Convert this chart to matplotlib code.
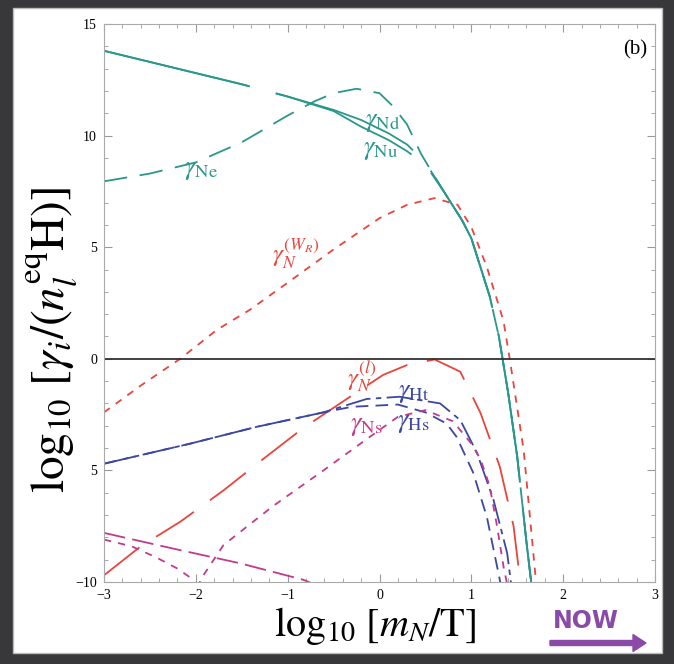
import numpy as np
import matplotlib
matplotlib.use("Agg")
from matplotlib import pyplot as plt
from matplotlib.patches import Rectangle, FancyArrow
from matplotlib.ticker import MultipleLocator, FixedLocator, FixedFormatter

plt.rcParams['font.family'] = ['Liberation Serif', 'DejaVu Serif']
plt.rcParams['mathtext.fontset'] = 'stix'

# curves (x = log10 mN/T, y = log10 rate)
nu_x = [-3, -2.5, -2, -1.5, -1, -0.5, -0.2, 0.1, 0.3, 0.5, 0.7, 0.9, 1.0, 1.1, 1.2, 1.3, 1.4, 1.5, 1.6, 1.66]
nu_y = [13.8, 13.3, 12.8, 12.3, 11.75, 11.1, 10.4, 9.8, 9.3, 8.7, 7.5, 6.2, 5.4, 4.1, 2.8, 1.0, -1.5, -4.4, -8.2, -10.3]
nd_x = [-3, -2.5, -2, -1.5, -1, -0.5, -0.2, 0.1, 0.3, 0.5, 0.7, 0.9, 1.0, 1.1, 1.2, 1.3, 1.4, 1.5, 1.6, 1.66]
nd_y = [13.8, 13.3, 12.8, 12.3, 11.75, 11.15, 10.7, 10.1, 9.6, 8.8, 7.5, 6.2, 5.4, 4.1, 2.8, 1.0, -1.5, -4.4, -8.2, -10.3]
ne_x = [-3, -2.5, -2, -1.5, -1, -0.7, -0.5, -0.25, 0, 0.15, 0.3, 0.45, 0.58, 0.7, 0.9, 1.0, 1.1, 1.2, 1.3, 1.4, 1.5, 1.6, 1.66]
ne_y = [7.95, 8.3, 8.8, 9.7, 10.9, 11.55, 11.9, 12.1, 11.9, 11.3, 10.5, 9.2, 8.3, 7.5, 6.2, 5.4, 4.1, 2.8, 1.0, -1.5, -4.4, -8.2, -10.3]
wr_x = [-3, -2.6, -2.17, -1.77, -1.41, -0.97, -0.5, 0, 0.3, 0.6, 0.85, 1.0, 1.17, 1.35, 1.42, 1.57, 1.70, 1.73]
wr_y = [-2.4, -1.2, 0.0, 1.3, 2.2, 3.5, 4.9, 6.3, 6.9, 7.2, 6.9, 5.9, 4.1, 1.7, -0.05, -4.1, -9.8, -10.5]
nl_x = [-3, -2.6, -2.17, -1.7, -1.27, -0.83, -0.32, 0.04, 0.3, 0.6, 0.88, 1.1, 1.31, 1.46, 1.53, 1.55]
nl_y = [-9.7, -8.4, -7.3, -5.9, -4.5, -3.1, -1.7, -0.72, -0.28, -0.03, -0.58, -2.43, -4.83, -7.5, -9.9, -10.4]
ht_x = [-3, -2.06, -1.34, -0.61, -0.14, 0.22, 0.66, 0.88, 1.06, 1.24, 1.39, 1.44]
ht_y = [-4.7, -3.8, -3.05, -2.4, -1.8, -1.7, -2.0, -2.75, -4.2, -6.3, -8.7, -10.3]
hs_x = [-3, -2.06, -1.34, -0.61, -0.3, 0.2, 0.5, 0.73, 0.84, 1.02, 1.17, 1.31, 1.33]
hs_y = [-4.7, -3.8, -3.05, -2.4, -2.15, -2.05, -2.4, -2.9, -3.5, -5.1, -7.1, -9.9, -10.4]
ns_x = [-3, -2.7, -2.43, -2.2, -2.06, -2.0, -1.95, -1.7, -1.16, -0.61, -0.14, 0.2, 0.5, 0.8, 1.0, 1.1, 1.2, 1.28, 1.35, 1.4]
ns_y = [-8.1, -8.4, -8.9, -9.4, -9.8, -10.8, -9.9, -8.35, -6.6, -5.0, -3.6, -2.6, -2.3, -2.8, -3.8, -4.5, -5.7, -7.5, -9.3, -10.3]
nsn_x = [-3, -2.25, -1.52, -0.83, -0.6]
nsn_y = [-7.8, -8.5, -9.16, -9.9, -10.3]

yticks = [-10, -5, 0, 5, 10, 15]
ytick_labels = ["\u221210", "5", "0", "5", "10", "15"]

teal = "#2a978c"
red = "#e8453c"
blue = "#3b47a0"
mag = "#c23a8e"

fig = plt.figure(figsize=(6.74, 6.64), dpi=100)
fig.patch.set_facecolor("#38383a")
fig.patches.append(Rectangle((13 / 674, 11 / 664), 649 / 674, 645 / 664,
                             transform=fig.transFigure, facecolor="white",
                             edgecolor="#bbbbbb", lw=1, zorder=-5))

ax = fig.add_axes([104 / 674, 1 - 582 / 664, 551 / 674, 558 / 664])
ax.set_facecolor("white")

lw = 1.3
ax.plot(nu_x, nu_y, color=teal, lw=lw, linestyle=(0, (83, 15)))
ax.plot(nd_x, nd_y, color=teal, lw=lw, linestyle=(0, (83, 15)))
ax.plot(ne_x, ne_y, color=teal, lw=lw, linestyle=(0, (13, 7)))
ax.plot(wr_x, wr_y, color=red, lw=lw, linestyle=(0, (4, 4)))
ax.plot(nl_x, nl_y, color=red, lw=lw, linestyle=(0, (25, 11)))
ax.plot(hs_x, hs_y, color=blue, lw=lw, linestyle=(0, (7, 4)))
ax.plot(ht_x, ht_y, color=blue, lw=lw, linestyle=(0, (14, 3, 3, 3)))
ax.plot(ns_x, ns_y, color=mag, lw=lw, linestyle=(0, (4, 4)))
ax.plot(nsn_x, nsn_y, color=mag, lw=lw, linestyle=(0, (12, 4)))
ax.axhline(0, color="#333333", lw=1.3)

ax.set_xlim(-3, 3)
ax.set_ylim(-10, 15)
ax.xaxis.set_major_locator(MultipleLocator(1))
ax.xaxis.set_minor_locator(MultipleLocator(0.2))
ax.yaxis.set_major_locator(FixedLocator(yticks))
ax.yaxis.set_major_formatter(FixedFormatter(ytick_labels))
ax.yaxis.set_minor_locator(MultipleLocator(1))
ax.tick_params(which="both", direction="in", top=True, right=True,
               color="#999999", labelsize=10, pad=5)
ax.tick_params(which="major", length=6)
ax.tick_params(which="minor", length=3)
for s in ax.spines.values():
    s.set_color("#aaaaaa")

fs = 19
ax.text(-2.13, 8.4, r"$\gamma_{\rm Ne}$", color=teal, fontsize=fs, va="center")
ax.text(-0.16, 10.56, r"$\gamma_{\rm Nd}$", color=teal, fontsize=fs, va="center")
ax.text(-0.18, 9.3, r"$\gamma_{\rm Nu}$", color=teal, fontsize=fs, va="center")
ax.text(-1.17, 4.7, r"$\gamma_N^{(W_R)}$", color=red, fontsize=fs - 1, va="center")
ax.text(-0.35, -0.8, r"$\gamma_N^{(l)}$", color=red, fontsize=fs - 1, va="center")
ax.text(0.2, -1.58, r"$\gamma_{\rm Ht}$", color=blue, fontsize=fs, va="center")
ax.text(-0.32, -3.05, r"$\gamma_{\rm Ns}$", color=mag, fontsize=fs, va="center")
ax.text(0.19, -2.9, r"$\gamma_{\rm Hs}$", color=blue, fontsize=fs, va="center")
ax.text(2.78, 13.83, "(b)", fontsize=15, ha="center", va="center")

fig.text(375 / 674, 1 - 626 / 664, r"$\mathrm{log}_{10}\ [m_N/\mathrm{T}]$",
         fontsize=29, ha="center", va="center")
fig.text(52 / 674, 1 - 340 / 664, r"$\mathrm{log}_{10}\ [\gamma_i/(n_l^{\mathrm{eq}}\mathrm{H})]$",
         fontsize=34, ha="center", va="center", rotation=90)

purple = "#8a4ba8"
fig.text(586 / 674, 1 - 621 / 664, "NOW", family="DejaVu Sans", weight="bold",
         fontsize=17, color=purple, ha="center", va="center")
fig.patches.append(FancyArrow(550 / 674, 1 - 643 / 664, 96 / 674, 0,
                              width=5 / 664, head_width=17 / 664, head_length=13 / 674,
                              length_includes_head=True, color=purple,
                              transform=fig.transFigure))

fig.savefig("out.png", dpi=100, facecolor=fig.get_facecolor())
